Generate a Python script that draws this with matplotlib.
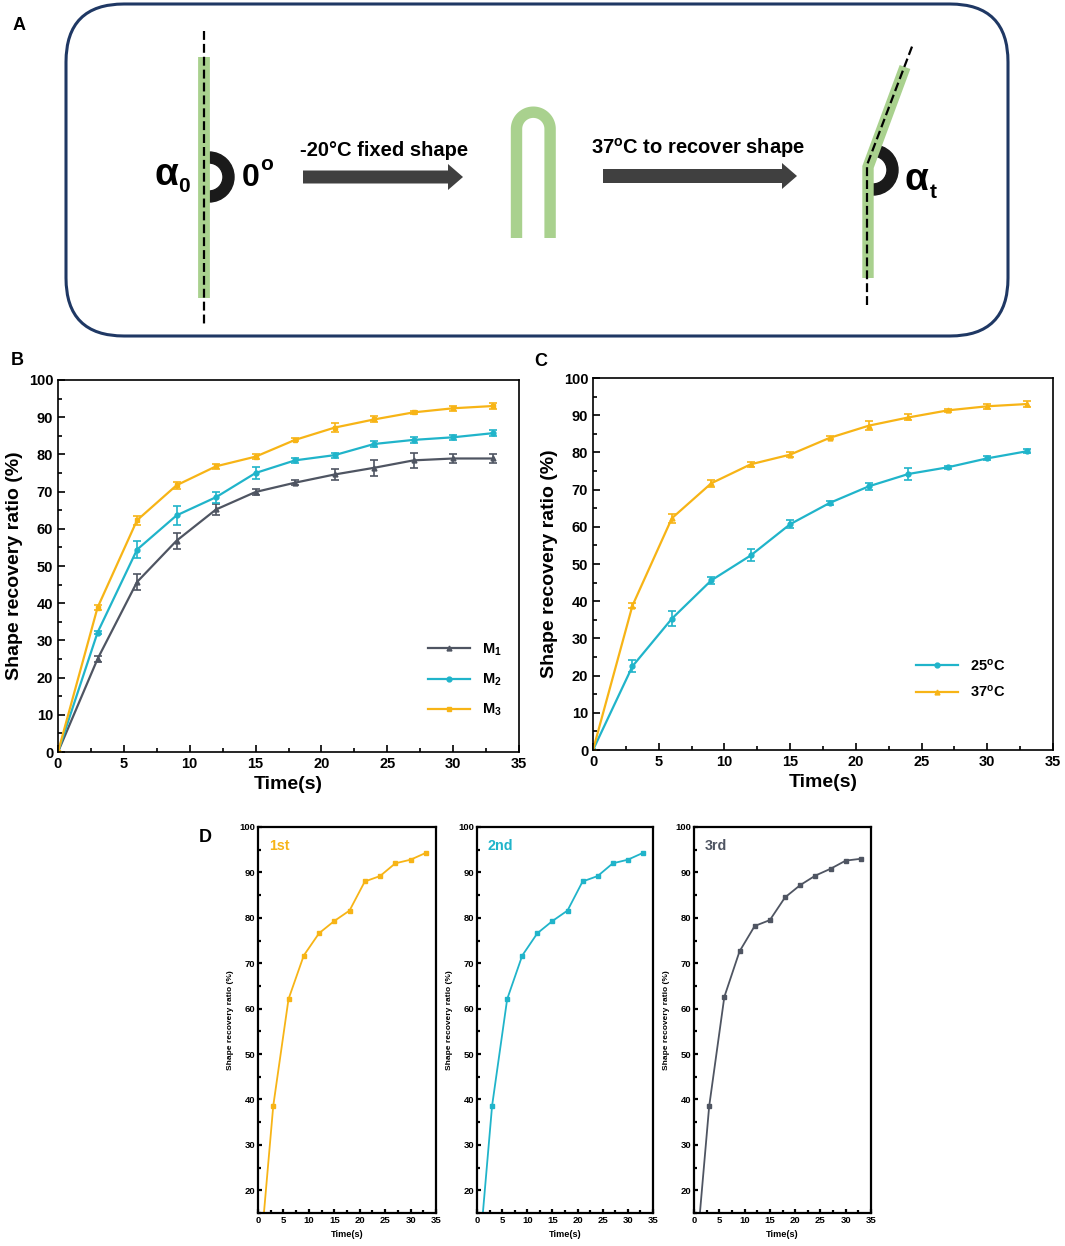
import matplotlib
matplotlib.use("Agg")
import matplotlib.pyplot as plt
from matplotlib.patches import FancyBboxPatch, Wedge, FancyArrow
from matplotlib.ticker import MultipleLocator
import numpy as np

plt.rcParams['font.family'] = ['Liberation Sans', 'DejaVu Sans']
plt.rcParams['font.weight'] = 'bold'
plt.rcParams['axes.labelweight'] = 'bold'
plt.rcParams['mathtext.fontset'] = 'custom'
plt.rcParams['mathtext.rm'] = 'Liberation Sans:bold'
plt.rcParams['mathtext.bf'] = 'Liberation Sans:bold'
plt.rcParams['mathtext.it'] = 'Liberation Sans:bold'

# ---- dados ----
tempo = [0, 3, 6, 9, 12, 15, 18, 21, 24, 27, 30, 33]

m1 = [0, 25.0, 45.7, 56.8, 65.2, 69.9, 72.4, 74.6, 76.4, 78.4, 78.9, 78.9]
m1_err = [0, 0.8, 2.2, 2.1, 1.6, 0.8, 0.6, 1.4, 2.1, 2.1, 1.3, 1.3]
m2 = [0, 32.1, 54.4, 63.6, 68.5, 75.0, 78.4, 79.8, 82.8, 83.9, 84.6, 85.7]
m2_err = [0, 0.5, 2.2, 2.5, 1.5, 1.5, 0.7, 0.7, 0.8, 0.9, 0.7, 0.8]
m3 = [0, 38.8, 62.3, 71.7, 76.8, 79.4, 83.9, 87.2, 89.4, 91.3, 92.4, 93.0]
m3_err = [0, 0.6, 1.2, 1.0, 0.7, 0.7, 0.4, 1.3, 0.8, 0.4, 0.6, 0.7]

t25 = [0, 22.5, 35.3, 45.6, 52.3, 60.7, 66.4, 70.9, 74.2, 76.0, 78.4, 80.3]
t25_err = [0, 1.6, 2.0, 1.0, 1.6, 1.1, 0.6, 0.9, 1.6, 0.4, 0.5, 0.5]
t37 = [0, 38.8, 62.3, 71.7, 76.8, 79.4, 83.9, 87.2, 89.4, 91.3, 92.4, 93.0]
t37_err = [0, 0.6, 1.2, 1.0, 0.7, 0.7, 0.4, 1.3, 0.8, 0.4, 0.6, 0.7]

ciclo1 = [0, 38.6, 62.1, 71.7, 76.6, 79.3, 81.6, 88.0, 89.2, 92.0, 92.8, 94.3]
ciclo2 = [0, 38.6, 62.1, 71.7, 76.6, 79.3, 81.6, 88.0, 89.2, 92.0, 92.8, 94.3]
ciclo3 = [0, 38.5, 62.6, 72.6, 78.2, 79.5, 84.5, 87.2, 89.3, 90.8, 92.6, 93.0]

LARANJA = '#F7B416'
CIANO = '#20B4CA'
CINZA = '#4F5562'
VERDE = '#A9D18E'

W, H = 1065, 1246
fig = plt.figure(figsize=(W / 100, H / 100), dpi=100)


def eixo(x0, y0, x1, y1):
    # caixa em pixels (y de cima pra baixo)
    return fig.add_axes([x0 / W, (H - y1) / H, (x1 - x0) / W, (y1 - y0) / H])


# ----- painel A (esquema) -----
a0 = fig.add_axes([0, 0, 1, 1])
a0.set_xlim(0, W)
a0.set_ylim(H, 0)
a0.axis('off')

a0.add_patch(FancyBboxPatch((66, 4), 942, 332, boxstyle="round,pad=0,rounding_size=58",
                            fc='none', ec='#1F3864', lw=2.2))

# tira reta
a0.plot([204, 204], [57, 298], color=VERDE, lw=8.5, solid_capstyle='butt')
a0.plot([204, 204], [31, 325], color='black', lw=1.6, ls=(0, (4, 1.8)))
a0.add_patch(Wedge((209, 177), 25, -90, 90, width=11, color='#1a1a1a'))
a0.text(166, 175, 'α', fontsize=28, ha='center', va='center')
a0.text(184, 187, '0', fontsize=15, ha='center', va='center')
a0.text(251, 178, '0', fontsize=23, ha='center', va='center')
a0.text(267, 165, 'o', fontsize=15, ha='center', va='center')

a0.add_patch(FancyArrow(303, 177, 160, 0, width=13, head_width=26, head_length=15,
                        length_includes_head=True, color='#404040', lw=0))
a0.text(384, 151, '-20°C fixed shape', fontsize=14.5, ha='center', va='center')

# forma em U
cx, cy, r = 533.3, 129, 16.8
ang = np.linspace(np.pi, 0, 60)
ux = np.concatenate([[cx - r], cx + r * np.cos(ang), [cx + r]])
uy = np.concatenate([[238], cy - r * np.sin(ang), [238]])
a0.plot(ux, uy, color=VERDE, lw=8.2, solid_capstyle='butt')

a0.add_patch(FancyArrow(603, 176, 194, 0, width=14, head_width=26, head_length=15,
                        length_includes_head=True, color='#404040', lw=0))
a0.text(698, 148, r'37$^{\mathregular{o}}$C to recover shape', fontsize=14.5,
        ha='center', va='center')

# tira dobrada
a0.plot([868, 868, 905], [278, 167, 67], color=VERDE, lw=8.2, solid_joinstyle='miter',
        solid_capstyle='butt')
a0.plot([867, 867, 913], [305, 165, 44], color='black', lw=1.6, ls=(0, (4, 1.8)))
a0.add_patch(Wedge((873, 170), 25, -90, 90, width=11, color='#1a1a1a'))
a0.text(916, 180, 'α', fontsize=28, ha='center', va='center')
a0.text(933, 192, 't', fontsize=15, ha='center', va='center')

fig.text(19 / W, 1 - 25 / H, 'A', fontsize=13, ha='center', va='center')
fig.text(17 / W, 1 - 360 / H, 'B', fontsize=13, ha='center', va='center')
fig.text(541 / W, 1 - 361 / H, 'C', fontsize=13, ha='center', va='center')
fig.text(205 / W, 1 - 838 / H, 'D', fontsize=13, ha='center', va='center')


def estilo(ax, fs, lw, ymin):
    ax.set_xlim(0, 35)
    ax.set_ylim(ymin, 100)
    ax.xaxis.set_major_locator(MultipleLocator(5))
    ax.xaxis.set_minor_locator(MultipleLocator(2.5))
    ax.yaxis.set_major_locator(MultipleLocator(10))
    ax.yaxis.set_minor_locator(MultipleLocator(5))
    ax.tick_params(which='both', direction='in', labelsize=fs, width=lw)
    ax.tick_params(which='major', length=5)
    ax.tick_params(which='minor', length=3)
    for s in ax.spines.values():
        s.set_linewidth(lw)


# ----- painel B -----
ax = eixo(58, 380, 519, 752)
ax.plot(tempo, m1, '-^', color=CINZA, lw=1.6, ms=3.5, label=r'M$_1$')
ax.plot(tempo, m2, '-o', color=CIANO, lw=1.6, ms=3.5, label=r'M$_2$')
ax.plot(tempo, m3, '-s', color=LARANJA, lw=1.6, ms=3.5, label=r'M$_3$')
ax.errorbar(tempo, m1, yerr=m1_err, fmt='none', ecolor=CINZA, capsize=3, elinewidth=1.2, capthick=1.2)
ax.errorbar(tempo, m2, yerr=m2_err, fmt='none', ecolor=CIANO, capsize=3, elinewidth=1.2, capthick=1.2)
ax.errorbar(tempo, m3, yerr=m3_err, fmt='none', ecolor=LARANJA, capsize=3, elinewidth=1.2, capthick=1.2)
estilo(ax, 10.5, 1.2, 0)
ax.set_xlabel('Time(s)', fontsize=14)
ax.set_ylabel('Shape recovery ratio (%)', fontsize=14)
ax.legend(loc='lower right', bbox_to_anchor=(0.99, 0.055), frameon=False, fontsize=10.5,
          handlelength=2.9, labelspacing=0.95)

# ----- painel C -----
ax = eixo(593, 378, 1053, 750)
ax.plot(tempo, t25, '-o', color=CIANO, lw=1.6, ms=3.5, label=r'25$^{\mathregular{o}}$C')
ax.plot(tempo, t37, '-^', color=LARANJA, lw=1.6, ms=3.5, label=r'37$^{\mathregular{o}}$C')
ax.errorbar(tempo, t25, yerr=t25_err, fmt='none', ecolor=CIANO, capsize=3, elinewidth=1.2, capthick=1.2)
ax.errorbar(tempo, t37, yerr=t37_err, fmt='none', ecolor=LARANJA, capsize=3, elinewidth=1.2, capthick=1.2)
estilo(ax, 10.5, 1.2, 0)
ax.set_xlabel('Time(s)', fontsize=14)
ax.set_ylabel('Shape recovery ratio (%)', fontsize=14)
ax.legend(loc='lower right', bbox_to_anchor=(0.925, 0.1), frameon=False, fontsize=10.5,
          handlelength=2.9, labelspacing=0.7)

# ----- painel D -----
caixas = [(258, 436), (477, 653), (694, 871)]
ciclos = [ciclo1, ciclo2, ciclo3]
cores = [LARANJA, CIANO, CINZA]
nomes = ['1st', '2nd', '3rd']
for (x0, x1), dados, cor, nome in zip(caixas, ciclos, cores, nomes):
    ax = eixo(x0, 827, x1, 1213)
    ax.plot(tempo, dados, '-s', color=cor, lw=1.3, ms=3.5)
    estilo(ax, 6.8, 1.6, 15)
    ax.tick_params(which='major', length=3, pad=2)
    ax.tick_params(which='minor', length=2)
    ax.set_xlabel('Time(s)', fontsize=6.6)
    ax.set_ylabel('Shape recovery ratio (%)', fontsize=6)
    ax.text(0.06, 0.95, nome, color=cor, fontsize=10.3, transform=ax.transAxes,
            ha='left', va='center')

fig.savefig('out.png', dpi=100)
